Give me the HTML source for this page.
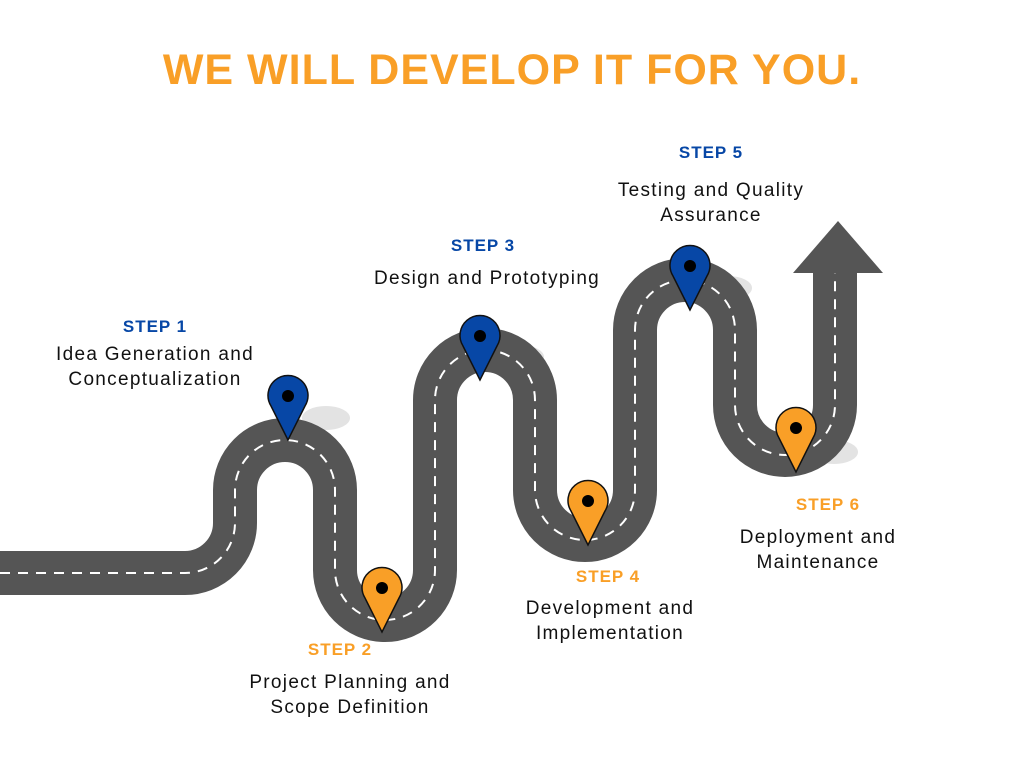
<!DOCTYPE html>
<html><head><meta charset="utf-8"><style>
html,body{margin:0;padding:0;background:#fff;}
#root{position:relative;width:1024px;height:768px;overflow:hidden;font-family:"Liberation Sans",sans-serif;}
.title{position:absolute;left:0;width:1024px;top:46px;text-align:center;color:#f99f27;font-weight:bold;font-size:43px;letter-spacing:1px;}
.step{position:absolute;font-weight:bold;font-size:17px;text-align:center;width:200px;letter-spacing:1px;}
.desc{position:absolute;font-size:19px;color:#111;text-align:center;width:300px;line-height:25px;letter-spacing:1.3px;}
.blue{color:#0747a6}.orange{color:#f99f27}
svg{position:absolute;left:0;top:0}
</style></head><body>
<div id="root">
<svg width="1024" height="768">
 <g fill="#e3e3e3">
  <ellipse cx="326" cy="418" rx="24" ry="12"/>
  <ellipse cx="420" cy="604" rx="22" ry="11"/>
  <ellipse cx="520" cy="357" rx="24" ry="12"/>
  <ellipse cx="626" cy="520" rx="22" ry="11"/>
  <ellipse cx="728" cy="288" rx="24" ry="12"/>
  <ellipse cx="834" cy="452" rx="24" ry="12"/>
 </g>
 <path d="M0,573 H185 A50,50 0 0 0 235,523 V490 A50,50 0 0 1 335,490 V570 A50,50 0 0 0 435,570 V400 A50,50 0 0 1 535,400 V490 A50,50 0 0 0 635,490 V330 A50,50 0 0 1 735,330 V405 A50,50 0 0 0 835,405 V268" fill="none" stroke="#555" stroke-width="44"/>
 <path d="M0,573 H185 A50,50 0 0 0 235,523 V490 A50,50 0 0 1 335,490 V570 A50,50 0 0 0 435,570 V400 A50,50 0 0 1 535,400 V490 A50,50 0 0 0 635,490 V330 A50,50 0 0 1 735,330 V405 A50,50 0 0 0 835,405 V272" fill="none" stroke="#fff" stroke-width="2" stroke-dasharray="10 8"/>
 <polygon points="793,273 883,273 838,221" fill="#555"/>
 <g id="pins"></g>
</svg>
<div class="title">WE WILL DEVELOP IT FOR YOU.</div>

<div class="step blue" style="left:55px;top:317px">STEP 1</div>
<div class="desc" style="left:5px;top:342px">Idea Generation and<br>Conceptualization</div>

<div class="step orange" style="left:240px;top:640px">STEP 2</div>
<div class="desc" style="left:200px;top:670px">Project Planning and<br>Scope Definition</div>

<div class="step blue" style="left:383px;top:236px">STEP 3</div>
<div class="desc" style="left:337px;top:266px">Design and Prototyping</div>

<div class="step orange" style="left:508px;top:567px">STEP 4</div>
<div class="desc" style="left:460px;top:596px">Development and<br>Implementation</div>

<div class="step blue" style="left:611px;top:143px">STEP 5</div>
<div class="desc" style="left:561px;top:178px">Testing and Quality<br>Assurance</div>

<div class="step orange" style="left:728px;top:495px">STEP 6</div>
<div class="desc" style="left:668px;top:525px">Deployment and<br>Maintenance</div>
</div>
<script>
const pinX=[288,382,480,588,690,796];
const pinTipY=[440,632,380,545,310,472];
const pinColors=['#0747a6','#f99f27','#0747a6','#f99f27','#0747a6','#f99f27'];
const g=document.getElementById('pins');
const ns='http://www.w3.org/2000/svg';
pinX.forEach((x,i)=>{
 const t=pinTipY[i], cy=t-44, r=20;
 const p=document.createElementNS(ns,'path');
 p.setAttribute('d',`M${x},${t} L${x-17},${cy+10} A${r},${r} 0 1 1 ${x+17},${cy+10} Z`);
 p.setAttribute('fill',pinColors[i]);p.setAttribute('stroke','#111');p.setAttribute('stroke-width','1.5');
 
 
 g.appendChild(p);
 const c=document.createElementNS(ns,'circle');
 c.setAttribute('cx',x);c.setAttribute('cy',cy);c.setAttribute('r',6);c.setAttribute('fill','#000');
 
 
 g.appendChild(c);
});
</script>
</body></html>
